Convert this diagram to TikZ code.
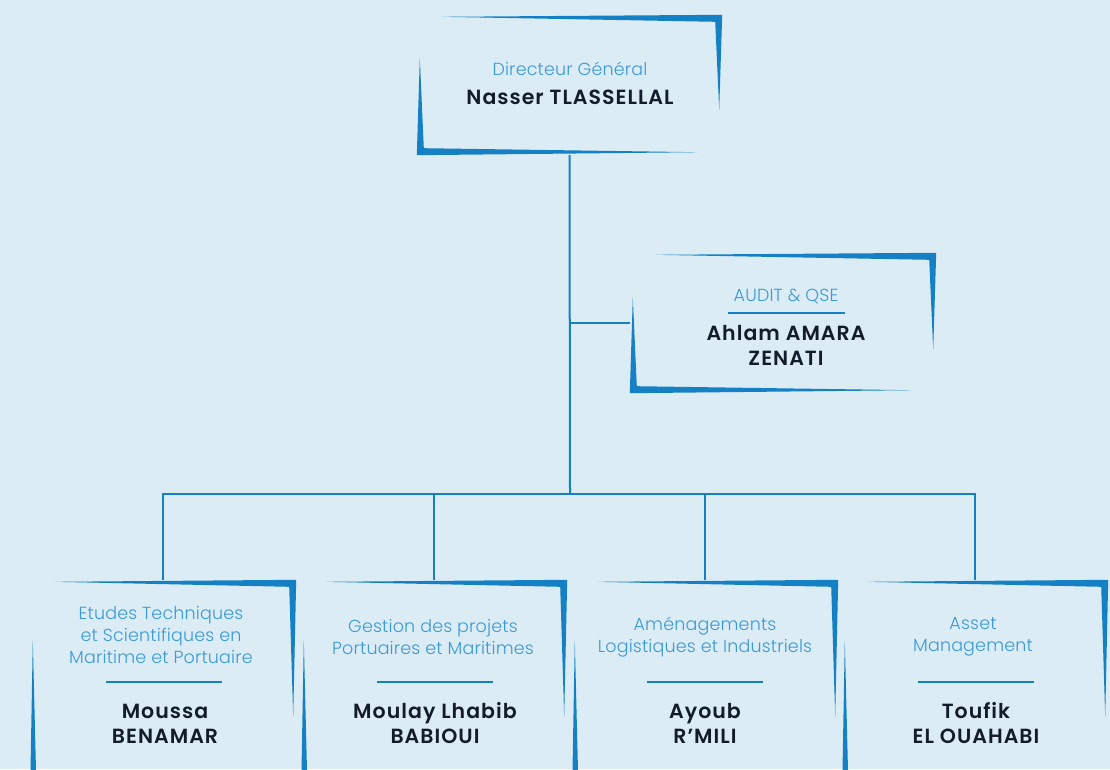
\documentclass[tikz,border=0pt]{standalone}
\usepackage{fontspec}
\setmainfont{Poppins}
\newfontfamily\lightfont{Poppins Light}[LetterSpace=1]
\newfontfamily\namefont{Poppins SemiBold}[LetterSpace=5]
\usepackage{tikz}
\usetikzlibrary{positioning, calc}

\definecolor{pagebg}{HTML}{DCECF5}
\definecolor{frameblue}{HTML}{1581C4}
\definecolor{titleblue}{HTML}{3B9AD6}
\definecolor{namedark}{HTML}{121C2A}

% two tapered corners round a named node: #2 right edge length, #3 left edge length
\newcommand{\bracketframe}[3]{%
  \fill[frameblue] ([xshift=25pt,yshift=-2pt]#1.north west) -- (#1.north east)
    -- ([xshift=-3pt,yshift=-#2]#1.north east) -- ([xshift=-7pt,yshift=-7pt]#1.north east) -- cycle;
  \fill[frameblue] ([xshift=3pt,yshift=#3]#1.south west) -- (#1.south west)
    -- ([xshift=-25pt,yshift=3pt]#1.south east) -- ([xshift=7pt,yshift=7pt]#1.south west) -- cycle;
}

\begin{document}
\begin{tikzpicture}[x=1pt, y=-1pt,
    framebox/.style={rectangle, inner sep=0pt},
    titletext/.style={align=center, text=titleblue, font=\lightfont\fontsize{17.5}{22}\selectfont},
    nametext/.style={align=center, text=namedark, font=\namefont\fontsize{20.5}{25}\selectfont},
    link/.style={draw=frameblue, line width=2pt},
    titlerule/.style={draw=frameblue, line width=1.3pt}]
        \fill[pagebg] (0,0) rectangle (1110,769);
        \clip (0,0) rectangle (1110,769);

        % Directeur General
        \node (dg) [framebox, minimum width=305pt, minimum height=140pt] at (569.5,85) {};
        \bracketframe{dg}{95pt}{97pt}
        \node (dg-title) [titletext] at (570,69) {Directeur Général};
        \node (dg-name) [nametext] at (570,97) {Nasser TLASSELLAL};

        % Audit
        \node (audit) [framebox, minimum width=306pt, minimum height=140pt] at (783,323) {};
        \bracketframe{audit}{97pt}{96pt}
        \node (audit-title) [titletext] at (786,296) {AUDIT \& QSE};
        \draw[titlerule] (728,313) -- (845,313);
        \node (audit-name) [nametext] at (786,345) {Ahlam AMARA\\ZENATI};

        % Directions
        \node (b1) [framebox, minimum width=266pt, minimum height=230pt] at (163,695) {};
        \node (b2) [framebox, minimum width=266pt, minimum height=230pt] at (434,695) {};
        \node (b3) [framebox, minimum width=266pt, minimum height=230pt] at (705,695) {};
        \node (b4) [framebox, minimum width=266pt, minimum height=230pt] at (975,695) {};
        \foreach \b in {b1, b2, b3, b4} {
            \bracketframe{\b}{137pt}{170pt}
        }

        \node (b1-title) [titletext] at (161,635) {Etudes Techniques\\et Scientifiques en\\Maritime et Portuaire};
        \node (b2-title) [titletext] at (433,637) {Gestion des projets\\Portuaires et Maritimes};
        \node (b3-title) [titletext] at (705,637) {Aménagements\\Logistiques et Industriels};
        \node (b4-title) [titletext] at (973,637) {Asset\\Management};

        \foreach \x in {164, 435, 705, 976} {
            \draw[titlerule] (\x-58,682) -- (\x+58,682);
        }

        \node (b1-name) [nametext] at (165,723.5) {Moussa\\BENAMAR};
        \node (b2-name) [nametext] at (435,723.5) {Moulay Lhabib\\BABIOUI};
        \node (b3-name) [nametext] at (705,723.5) {Ayoub\\R’MILI};
        \node (b4-name) [nametext] at (976,723.5) {Toufik\\EL OUAHABI};

        % Links
        \coordinate (bus) at (570,494);
        \draw[link] (dg.south) -- (bus);
        \draw[link] (dg.south |- audit.west) -- (audit.west);
        \draw[link] (b1.north) |- (bus) -| (b4.north);
        \draw[link] (b2.north) -- (b2.north |- bus);
        \draw[link] (b3.north) -- (b3.north |- bus);
\end{tikzpicture}
\end{document}
